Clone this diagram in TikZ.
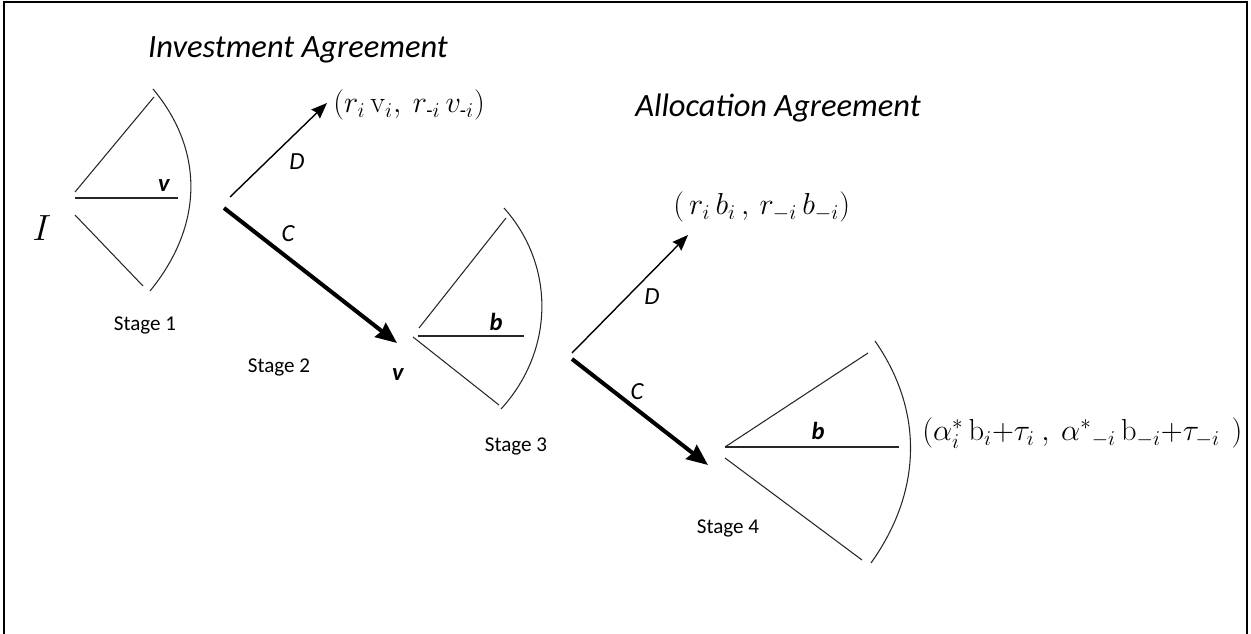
\documentclass[tikz,border=0pt]{standalone}
\usepackage{amsmath}
\usepackage[no-math]{fontspec}
\setmainfont{Carlito}
\usetikzlibrary{arrows.meta}

\begin{document}
\begin{tikzpicture}[
  x=0.02cm, y=-0.02cm,
  every node/.style={inner sep=0pt},
  fan/.style={draw=black!85, line width=0.6pt},
  arD/.style={-{Stealth[length=9pt,width=7pt,inset=1pt]}, line width=0.8pt},
  arC/.style={-{Stealth[length=12pt,width=10pt,inset=1pt]}, line width=2.3pt},
  stg/.style={font=\fontsize{12}{14}\selectfont},
  ttl/.style={font=\fontsize{18.5}{22}\selectfont\itshape},
  var/.style={font=\fontsize{14}{16}\selectfont\bfseries\itshape},
  mv/.style={font=\fontsize{14}{16}\selectfont\itshape},
  pay/.style={font=\fontsize{16.5}{19}\selectfont, anchor=west},
]
  \useasboundingbox (0,0) rectangle (1251,634);
  % Frame
  \draw[line width=0.8pt] (4,634) -- (4,2) -- (1247,2) -- (1247,634);

  % Titles
  \node[ttl] (t1) at (298,50) {Investment Agreement};
  \node[ttl] (t2) at (778,108) {Allocation Agreement};

  % STAGE 1
  \node[font=\fontsize{20}{24}\selectfont] (I) at (42,228) {$I$};
  \draw[fan] (75,192) -- (154,97);
  \draw[fan] (75,198) -- (178,198);
  \draw[fan] (75,215) -- (143,286);
  \draw[fan] (153,89) .. controls (204,150) and (204,225) .. (150,291);
  \node[var] (v1) at (164,186) {v};
  \node[stg] (s1) at (145,325) {Stage 1};

  % STAGE 2
  \coordinate (d1s) at (230,197);
  \coordinate (d1e) at (327,103);
  \coordinate (c1s) at (224,208);
  \coordinate (c1e) at (397,343);
  \draw[arD] (d1s) -- (d1e);
  \draw[arC] (c1s) -- (c1e);
  \node[mv] (D1) at (297,162) {D};
  \node[mv] (C1) at (288,234) {C};
  \node[pay] (p1) at (333,105) {$(r_i\,\mathrm{v}_i,\ r_{\text{-}i}\,v_{\text{-}i})$};
  \node[stg] (s2) at (279,367) {Stage 2};
  \node[var] (v2) at (398,375) {v};

  % STAGE 3
  \draw[fan] (419,328) -- (506,218);
  \draw[fan] (418,336) -- (524,336);
  \draw[fan] (413,337) -- (499,405);
  \draw[fan] (504,208) .. controls (555,265) and (555,350) .. (501,409);
  \node[var] (b3) at (496,322) {b};
  \node[stg] (s3) at (516,446) {Stage 3};

  % ALLOCATION
  \coordinate (d2s) at (572,353);
  \coordinate (d2e) at (688,235);
  \coordinate (c2s) at (572,359);
  \coordinate (c2e) at (708,465);
  \draw[arD] (d2s) -- (d2e);
  \draw[arC] (c2s) -- (c2e);
  \node[mv] (D2) at (652,297) {D};
  \node[mv] (C2) at (637,392) {C};
  \node[pay] (p2) at (673,207) {$(\,r_i\,b_i\,,\,r_{-i}\,b_{-i})$};

  % STAGE 4
  \draw[fan] (725,447) -- (868,353);
  \draw[fan] (725,447) -- (899,447);
  \draw[fan] (725,458) -- (862,560);
  \draw[fan] (875,341) .. controls (923,410) and (923,490) .. (871,563);
  \node[var] (b4) at (818,431) {b};
  \node[stg] (s4) at (728,528) {Stage 4};
  \node[pay] (p3) at (922,433)
    {$(\alpha_i^*\,\mathrm{b}_i{+}\tau_i\ ,\ \alpha^*{}_{-i}\,\mathrm{b}_{-i}{+}\tau_{-i}\ \,)$};
\end{tikzpicture}
\end{document}
